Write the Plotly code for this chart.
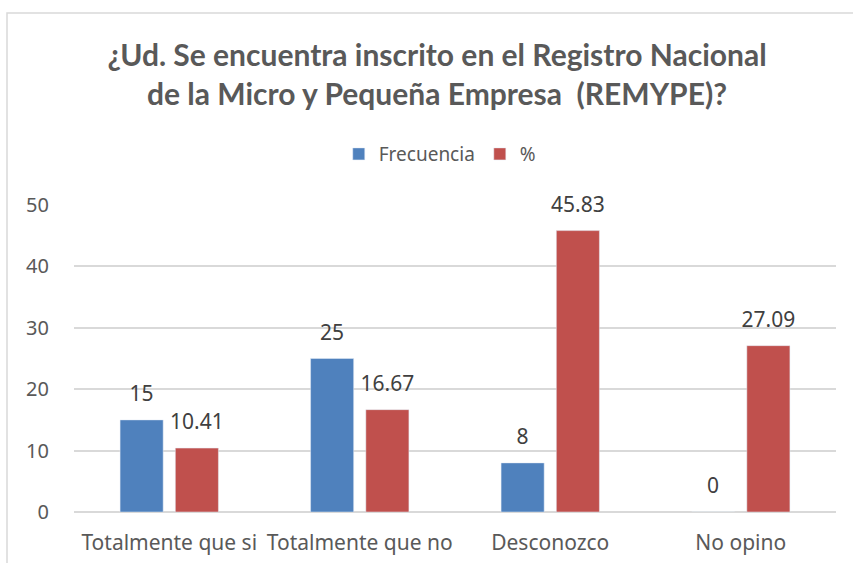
import plotly.graph_objects as go

categorias = ["Totalmente que si", "Totalmente que no", "Desconozco", "No opino"]
frecuencia = [15, 25, 8, 0]
porcentaje = [10.41, 16.67, 45.83, 27.09]

TITULO_FONT = "Lato"
FONT = "Noto Sans"
GRIS = "#595959"
AZUL = "#4f81bd"
ROJO = "#c0504d"

fig = go.Figure()
fig.add_trace(go.Bar(name="Frecuencia", x=categorias, y=frecuencia,
                     marker_color=AZUL, offsetgroup="a"))
fig.add_trace(go.Bar(name="%", x=categorias, y=porcentaje,
                     marker_color=ROJO, offsetgroup="b"))

# data labels as text scatter traces (invisible markers push the text up a bit)
for vals, txt, grp in [(frecuencia, [str(v) for v in frecuencia], "a"),
                       (porcentaje, [f"{v:.2f}" for v in porcentaje], "b")]:
    fig.add_trace(go.Scatter(
        x=categorias, y=vals, text=txt, mode="markers+text",
        marker=dict(size=20, opacity=0),
        textposition="top center", offsetgroup=grp,
        textfont=dict(size=21, color="#404040", family=FONT),
        cliponaxis=False, showlegend=False, hoverinfo="skip",
    ))

fig.update_layout(
    width=853, height=563,
    margin=dict(l=74, r=17, t=205, b=51),
    paper_bgcolor="white", plot_bgcolor="white",
    font=dict(family=FONT, color=GRIS, size=18),
    title=dict(
        text="<b>¿Ud. Se encuentra inscrito en el Registro Nacional<br>de la Micro y Pequeña Empresa  (REMYPE)?</b>",
        xref="container", x=437 / 853, xanchor="center",
        y=1 - 66 / 563, yanchor="middle",
        font=dict(size=30, color=GRIS, family=TITULO_FONT),
    ),
    barmode="group", bargap=0.42, bargroupgap=0.22,
    scattermode="group", scattergap=0.42,
    legend=dict(
        orientation="h", x=0.48, xanchor="center", y=1.166, yanchor="middle",
        font=dict(size=19, color=GRIS, family=FONT), itemwidth=30,
        traceorder="normal",
    ),
    xaxis=dict(showline=False, ticks="", tickfont=dict(size=21, color=GRIS),
               ticklabelstandoff=16, automargin=False),
    yaxis=dict(
        range=[0, 50], dtick=10, showgrid=True, gridcolor="#d9d9d9", gridwidth=1.5,
        zeroline=True, zerolinecolor="#d9d9d9", zerolinewidth=1.5,
        showline=False, ticks="", tickfont=dict(size=20, color=GRIS),
        ticklabelstandoff=24, automargin=False,
    ),
    shapes=[dict(
        type="rect", xref="paper", yref="paper",
        x0=(7 - 74) / 762, x1=1.2, y0=-0.5, y1=(512 - 13) / 307,
        line=dict(color="#d9d9d9", width=1.5), fillcolor="rgba(0,0,0,0)",
        layer="below",
    )],
)

# drop the default page margin so the figure fills the window exactly
fig.write_html(
    "out.html",
    config={"displayModeBar": False},
    post_script="document.body.style.margin='0';document.body.style.overflow='hidden';",
)
